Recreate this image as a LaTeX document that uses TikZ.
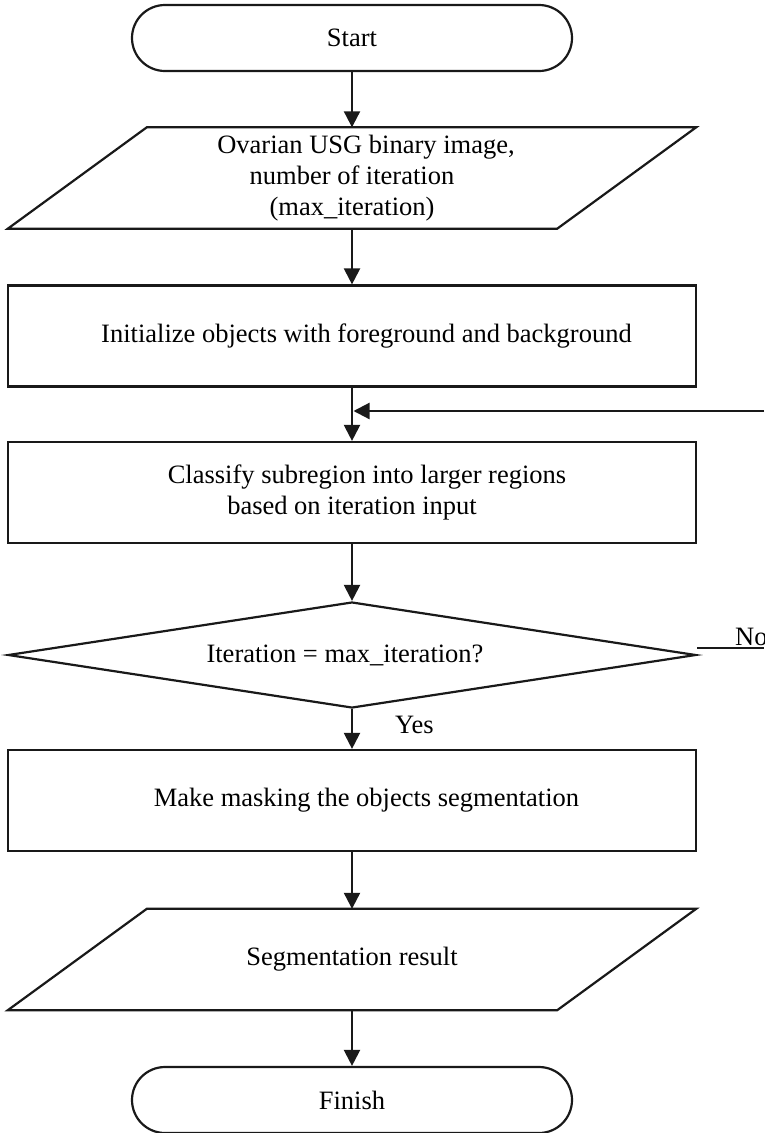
\documentclass[tikz,border=0pt]{standalone}
\usepackage{fontspec}
\setmainfont{Liberation Serif}
\usetikzlibrary{shapes.misc,shapes.geometric,arrows.meta}
\begin{document}
\begin{tikzpicture}[x=1pt,y=-1pt,
  every node/.style={font=\fontsize{26.5}{31}\selectfont},
  lw/.style={line width=2.2pt, draw=black!90},
  term/.style={rounded rectangle, lw, minimum width=440pt, minimum height=66pt, inner sep=0pt},
  proc/.style={rectangle, lw, minimum width=688pt, minimum height=101pt, inner sep=0pt, align=center},
  io/.style={rectangle, minimum width=549pt, minimum height=101pt, inner sep=0pt, align=center},
  dec/.style={diamond, lw, minimum width=688pt, minimum height=106pt, inner sep=0pt, aspect=6.5},
  arr/.style={lw, -{Triangle[width=16pt,length=16pt]}}
]
\clip (0,0) rectangle (764,1133);
\fill[white] (0,0) rectangle (764,1133);

\node[term] (start) at (352,38) {Start};
\node[io] (in) at (352,178) {\hspace*{28pt}Ovarian USG binary image,\\ number of iteration\\ (max\_iteration)};
\draw[lw, line join=miter] ([xshift=69.5pt]in.north west) -- ([xshift=69.5pt]in.north east)
   -- ([xshift=-69.5pt]in.south east) -- ([xshift=-69.5pt]in.south west) -- cycle;
\node[proc] (init) at (352,336) {\hspace*{29pt}Initialize objects with foreground and background};
\node[proc] (cls) at (352,492.5) {\hspace*{30pt}Classify subregion into larger regions\\ based on iteration input};
\node[dec] (dec) at (352,655) {};
\node (dectxt) at (345,655) {Iteration = max\_iteration?};
\node[proc] (mask) at (352,800.5) {\hspace*{29pt}Make masking the objects segmentation};
\node[io] (out) at (352,959.5) {Segmentation result};
\draw[lw, line join=miter] ([xshift=69.5pt]out.north west) -- ([xshift=69.5pt]out.north east)
   -- ([xshift=-69.5pt]out.south east) -- ([xshift=-69.5pt]out.south west) -- cycle;
\node[term] (fin) at (352,1100) {Finish};

\draw[arr] (start.south) -- (in.north);
\draw[arr] (in.south) -- (init.north);
\draw[arr] (init.south) -- (cls.north);
\draw[arr] (cls.south) -- (dec.north);
\draw[arr] (dec.south) -- (mask.north);
\draw[arr] (mask.south) -- (out.north);
\draw[arr] (out.south) -- (fin.north);

\coordinate (fbin) at (764,411);
\coordinate (fbend) at (353.5,411);
\draw[arr] (fbin) -- (fbend);

\coordinate (noend) at (764,648);
\draw[lw] ([yshift=7pt]dec.east) -- (noend);
\node[anchor=base west, inner sep=0pt] (no) at (735,645) {No};
\node[anchor=base west, inner sep=0pt] (yes) at (395,733) {Yes};
\end{tikzpicture}
\end{document}
